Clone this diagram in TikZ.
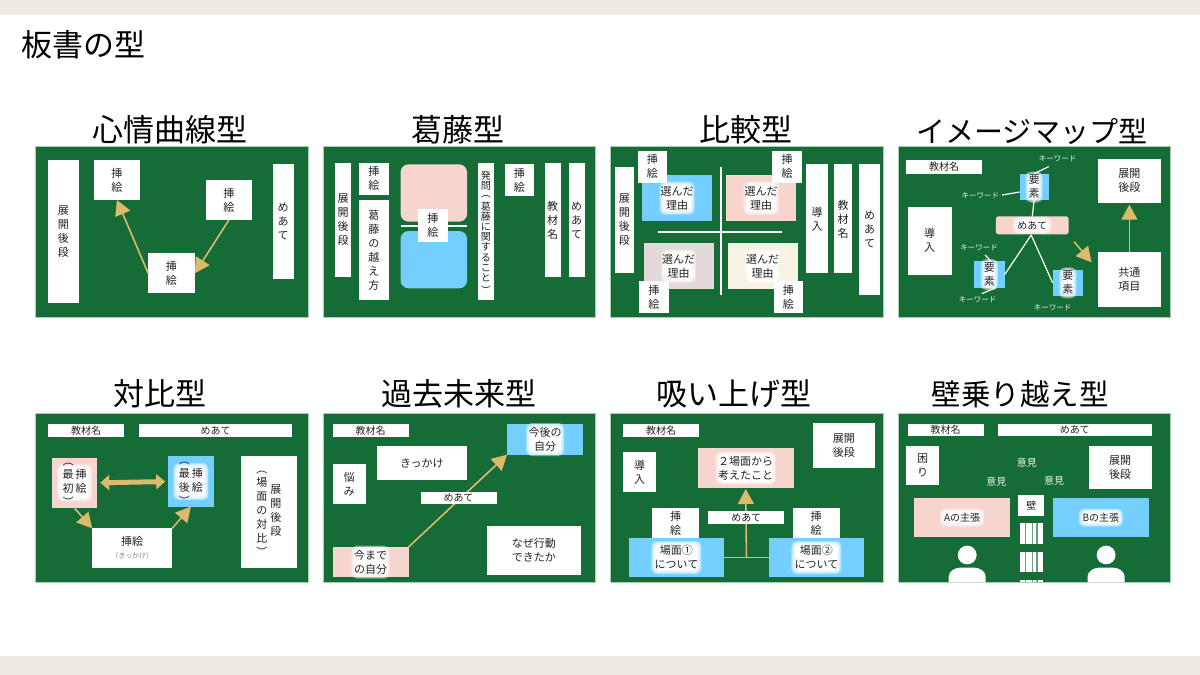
\documentclass[tikz,border=0pt]{standalone}
\usepackage{fontspec}
\setmainfont{Noto Sans CJK JP}
\usetikzlibrary{arrows.meta,calc}
\definecolor{barc}{HTML}{EFEBE3}
\definecolor{board}{HTML}{166C37}
\definecolor{edgec}{HTML}{A8CDB2}
\definecolor{pinkc}{HTML}{F6D5CF}
\definecolor{bluec}{HTML}{74CFFF}
\definecolor{grayc}{HTML}{E2D9D8}
\definecolor{creamc}{HTML}{F8F2E4}
\definecolor{arrowc}{HTML}{DDB96B}
\definecolor{inkc}{HTML}{222222}
\definecolor{kwc}{HTML}{E6F3E8}
\newcommand\setorg[2]{\def\orgx{#1}\def\orgy{#2}}
% zoom-space box: [opts]{name}{fill}{x1}{y1}{x2}{y2}{text}
\newcommand\zbox[8][]{%
  \pgfmathsetmacro\zw{(#6-#4)/2.75}%
  \pgfmathsetmacro\zh{(#7-#5)/3}%
  \pgfmathsetmacro\zcx{\orgx+(#4+#6)/5.5}%
  \pgfmathsetmacro\zcy{\orgy+(#5+#7)/6}%
  \node[bxs,fill=#3,minimum width=\zw pt,minimum height=\zh pt,#1] (#2) at (\zcx,\zcy) {#8};}
\newcommand\halotxt[4]{%
  \foreach \d in {4,3,2,1}{%
    \pgfmathsetmacro\ax{#2/2+\d}\pgfmathsetmacro\ay{#3/2+\d}%
    \fill[white,opacity=.42,rounded corners=5pt] ($(#1.center)+(-\ax,-\ay)$) rectangle ($(#1.center)+(\ax,\ay)$);
  }%
  \fill[white,rounded corners=4pt] ($(#1.center)+({-(#2)/2},{-(#3)/2})$) rectangle ($(#1.center)+({(#2)/2},{(#3)/2})$);
  \node[bxs] (#1-t) at (#1.center) {#4};}
\newcommand\zpt[3]{%
  \pgfmathsetmacro\zcx{\orgx+#2/2.75}%
  \pgfmathsetmacro\zcy{\orgy+#3/3}%
  \coordinate (#1) at (\zcx,\zcy);}
\newcommand\ztxt[4]{%
  \pgfmathsetmacro\zcx{\orgx+#2/2.75}%
  \pgfmathsetmacro\zcy{\orgy+#3/3}%
  \node[freetxt] (#1) at (\zcx,\zcy) {#4};}
\newcommand\vl{\smash{\raisebox{.22em}{\rotatebox[origin=c]{-90}{（}}}}
\newcommand\vr{\smash{\raisebox{-.22em}{\rotatebox[origin=c]{-90}{）}}}}
\newcommand\vt[1]{\begin{tabular}{@{}c@{}}#1\end{tabular}}
\newcommand\sashie{挿\\絵}
\newcommand\hs{\fontsize{10}{12}\selectfont}
\tikzset{
  x=1pt,y=-1pt,
  bxs/.style={draw=none,inner sep=0pt,outer sep=0pt,align=center,text=inkc,font=\fontsize{11}{14}\selectfont},
  panel/.style={bxs,draw=edgec,line width=.7pt},
  ttl/.style={inner sep=0pt,text=black,font=\fontsize{31}{34}\selectfont},
  freetxt/.style={inner sep=0pt,text=kwc,font=\fontsize{7.5}{9}\selectfont},
  arr/.style={draw=arrowc,line width=1.6pt,-{Triangle[length=15pt,width=16pt]}},
  wl/.style={draw=white,line width=1.2pt},
  zoomed/.style={shift={(\orgx,\orgy)},xscale=1/2.75,yscale=1/3},
}
\begin{document}
\begin{tikzpicture}
\useasboundingbox (0,0) rectangle (1200,675);
\fill[white] (0,0) rectangle (1200,675);
\fill[barc] (0,0) rectangle (1200,15);
\fill[barc] (0,656) rectangle (1200,675);
\node[ttl,anchor=center] (main) at (83,45) {板書の型};
% titles
\node[ttl] (t1) at (170,130) {心情曲線型};
\node[ttl] (t2) at (458,130) {葛藤型};
\node[ttl] (t3) at (746,130) {比較型};
\node[ttl,font=\fontsize{29}{32}\selectfont] (t4) at (1032,131) {イメージマップ型};
\node[ttl] (t5) at (160,394) {対比型};
\node[ttl] (t6) at (459,394) {過去未来型};
\node[ttl] (t7) at (734,394) {吸い上げ型};
\node[ttl,font=\fontsize{29.5}{32}\selectfont] (t8) at (1020,394) {壁乗り越え型};

% ---------- row 1, left
\setorg{30}{105}
\zbox[panel]{p1}{board}{14}{125}{765}{637}{}
\zbox{a1}{white}{50}{165}{134}{593}{展\\開\\後\\段}
\zbox{a2}{white}{175}{165}{303}{285}{\sashie}
\zbox{a3}{white}{483}{225}{611}{345}{\sashie}
\zbox{a4}{white}{325}{445}{453}{565}{\sashie}
\zbox{a5}{white}{667}{178}{725}{521}{め\\あ\\て}
\draw[arr] (a4.west) -- (a2.south);
\draw[arr] (a3.south) -- (a4.east);

\zbox[panel]{p2}{board}{806}{125}{1555}{637}{}
\zbox{b1}{white}{839}{173}{883}{517}{展\\開\\後\\段}
\zbox{b2}{white}{905}{173}{986}{269}{\sashie}
\zbox{b3}{white}{905}{285}{986}{585}{葛\\藤\\の\\越\\え\\方}
\zbox[rounded corners=8pt]{b4}{pinkc}{1019}{178}{1202}{350}{}
\zbox[rounded corners=8pt]{b5}{bluec}{1019}{378}{1202}{550}{}
\zpt{bl1}{1019}{364}\zpt{bl2}{1202}{364}
\draw[draw=white,line width=1.8pt] (bl1) -- (bl2);
\zbox{b6}{white}{1066}{313}{1150}{410}{\sashie}
\zbox[font=\fontsize{10}{10.2}\selectfont]{b7}{white}{1231}{173}{1276}{585}{発\\問\\\vl\\葛\\藤\\に\\関\\す\\る\\こ\\と\\\vr}
\zbox{b8}{white}{1305}{177}{1386}{273}{\sashie}
\zbox{b9}{white}{1415}{173}{1459}{517}{教\\材\\名}
\zbox{b10}{white}{1481}{173}{1525}{517}{め\\あ\\て}

% ---------- row 1, right
\setorg{605}{105}
\zbox[panel]{p3}{board}{14}{125}{765}{637}{}
\zbox{c1}{white}{28}{185}{79}{505}{展\\開\\後\\段}
\zbox{c2}{bluec}{101}{210}{295}{349}{}\halotxt{c2}{27}{25}{選んだ\\理由}
\zbox{c3}{pinkc}{333}{210}{526}{349}{}\halotxt{c3}{27}{25}{選んだ\\理由}
\zbox{c4}{grayc}{106}{414}{299}{553}{}\halotxt{c4}{27}{25}{選んだ\\理由}
\zbox{c5}{creamc}{337}{414}{530}{553}{}\halotxt{c5}{27}{25}{選んだ\\理由}
\zbox{c6}{white}{90}{137}{171}{233}{\sashie}
\zbox{c7}{white}{460}{137}{541}{233}{\sashie}
\zbox{c8}{white}{94}{529}{175}{625}{\sashie}
\zbox{c9}{white}{464}{529}{545}{625}{\sashie}
\zpt{cv1}{318}{185}\zpt{cv2}{318}{571}\zpt{ch1}{145}{381}\zpt{ch2}{487}{381}
\draw[draw=white,line width=1.8pt] (cv1) -- (cv2);
\draw[draw=white,line width=1.8pt] (ch1) -- (ch2);
\zbox{c10}{white}{552}{178}{614}{505}{導\\入}
\zbox{c11}{white}{629}{178}{680}{505}{教\\材\\名}
\zbox{c12}{white}{699}{178}{757}{569}{め\\あ\\て}

\zbox[panel]{p4}{board}{806}{125}{1555}{637}{}
\zbox{d1}{white}{828}{166}{1037}{206}{\hs 教材名}
\zbox{d2}{white}{832}{305}{953}{509}{導\\入}
\zbox{d3}{bluec}{1140}{207}{1220}{285}{}\halotxt{d3}{9}{23}{要\\素}
\zbox{d4}{bluec}{1015}{469}{1099}{549}{}\halotxt{d4}{9}{23}{要\\素}
\zbox{d5}{bluec}{1231}{494}{1315}{573}{}\halotxt{d5}{9}{23}{要\\素}
\zbox[rounded corners=2.5pt]{d6}{pinkc}{1075}{334}{1275}{388}{}\halotxt{d6}{30}{9}{\hs めあて}
\draw[wl] (d3.south) -- (d6.north);
\zpt{dm}{1172}{390}
\draw[wl] (dm) -- (d4.east);
\draw[wl] (dm) -- (d5.west);
\ztxt{k1}{1245}{160}{キーワード}
\ztxt{k2}{1032}{272}{キーワード}
\ztxt{k3}{1029}{428}{キーワード}
\ztxt{k4}{1025}{584}{キーワード}
\ztxt{k5}{1231}{608}{キーワード}
\zpt{e1}{1180}{206}\zpt{e2}{1220}{185}\draw[wl] (e1) -- (e2);
\zpt{e3}{1140}{261}\zpt{e4}{1092}{270}\draw[wl] (e3) -- (e4);
\zpt{e5}{1062}{469}\zpt{e6}{1045}{450}\draw[wl] (e5) -- (e6);
\zpt{e7}{1075}{548}\zpt{e8}{1036}{566}\draw[wl] (e7) -- (e8);
\zbox{d7}{white}{1356}{162}{1528}{293}{展開\\後段}
\zbox{d8}{white}{1356}{442}{1528}{605}{共通\\項目}
\draw[arr] (d8.north) -- ($(d7.south)+(0,2)$);
\zpt{da}{1290}{410}\zpt{db}{1338}{472}
\draw[arr] (da) -- (db);

% ---------- row 2, left
\setorg{30}{375}
\zbox[panel]{p5}{board}{14}{115}{765}{622}{}
\zbox{f1}{white}{50}{148}{259}{187}{\hs 教材名}
\zbox{f2}{white}{300}{148}{721}{187}{\hs めあて}
\zbox{f3}{pinkc}{61}{248}{185}{399}{}\halotxt{f3}{27}{29}{\vt{\vl\\[-3pt]最\\初\\[-3pt]\vr}\hspace{2pt}\vt{挿\\絵}}
\zbox{f4}{bluec}{380}{244}{505}{395}{}\halotxt{f4}{27}{29}{\vt{\vl\\[-3pt]最\\後\\[-3pt]\vr}\hspace{2pt}\vt{挿\\絵}}
\draw[draw=arrowc,line width=5pt,shorten <=3pt,shorten >=3pt,{Triangle[length=9pt,width=15pt]}-{Triangle[length=9pt,width=15pt]}] (f3.east) -- (f4.west);
\zbox{f5}{white}{171}{460}{391}{579}{挿絵\\[-1pt]{\fontsize{7}{9}\selectfont\color{gray}（きっかけ）}}
\zbox{f6}{white}{581}{244}{733}{579}{\vt{\vl\\[-3pt]場\\面\\の\\対\\比\\[-3pt]\vr}\hspace{3pt}\vt{展\\開\\後\\段}}
\zpt{f7}{123}{400}
\draw[arr] (f7) -- (f5.north west);
\draw[arr] (f5.north east) -- (f4.south);

\zbox[panel]{p6}{board}{806}{115}{1555}{622}{}
\zbox{g1}{white}{832}{148}{1041}{187}{\hs 教材名}
\zbox{g2}{bluec}{1312}{148}{1521}{239}{}\halotxt{g2}{30}{25}{今後の\\自分}
\zbox{g3}{white}{953}{212}{1202}{316}{きっかけ}
\zbox{g4}{white}{832}{268}{923}{387}{悩\\み}
\zbox{g6}{white}{1257}{452}{1514}{599}{なぜ行動\\できたか}
\zbox{g7}{pinkc}{832}{516}{1041}{607}{}\halotxt{g7}{30}{25}{今まで\\の自分}
\draw[arr] (g7.north east) -- (g2.south west);
\zbox{g5}{white}{1074}{352}{1283}{387}{\hs めあて}

% ---------- row 2, right
\setorg{605}{375}
\zbox[panel]{p7}{board}{14}{115}{765}{622}{}
\zbox{h1}{white}{50}{148}{259}{187}{\hs 教材名}
\zbox{h2}{white}{571}{144}{743}{279}{展開\\後段}
\zbox{h3}{white}{50}{232}{141}{351}{導\\入}
\zbox{h4}{pinkc}{255}{220}{519}{339}{}\halotxt{h4}{52}{25}{２場面から\\考えたこと}
\zbox{h5}{white}{130}{400}{259}{488}{\sashie}
\zbox{h6}{white}{516}{400}{645}{488}{\sashie}
\zbox{h7}{bluec}{65}{488}{328}{607}{}\halotxt{h7}{42}{25}{場面①\\について}
\zbox{h8}{bluec}{450}{488}{713}{607}{}\halotxt{h8}{42}{25}{場面②\\について}
\draw[draw=arrowc,line width=1.6pt] (h7.east) -- (h8.west);
\coordinate (hm) at ($(h7.east)!.5!(h8.west)$);
\draw[arr] (hm) -- ($(h4.south)+(0,1)$);
\zbox{h9}{white}{284}{408}{493}{447}{\hs めあて}

\zbox[panel]{p8}{board}{806}{115}{1555}{622}{}
\zbox{m1}{white}{832}{148}{1041}{183}{\hs 教材名}
\zbox{m2}{white}{1081}{148}{1503}{183}{\hs めあて}
\zbox{m3}{white}{828}{212}{919}{331}{困\\り}
\zbox{m4}{white}{1330}{212}{1503}{343}{展開\\後段}
\ztxt{o1}{1160}{264}{\hs 意見}
\ztxt{o2}{1076}{320}{\hs 意見}
\ztxt{o3}{1235}{316}{\hs 意見}
\zbox{m5}{white}{1137}{360}{1208}{423}{\hs 壁}
\zbox{m6}{pinkc}{850}{368}{1114}{487}{}\halotxt{m6}{36}{10}{\hs Aの主張}
\zbox{m7}{bluec}{1231}{368}{1496}{487}{}\halotxt{m7}{36}{10}{\hs Bの主張}
\begin{scope}[zoomed]
  \foreach \ya/\yb in {445/507,530/592,614/622}{
    \fill[white] (1141,\ya) rectangle (1204,\yb);
    \foreach \xs in {1156,1176,1188}{
      \fill[board!65!white] (\xs-2,\ya) rectangle (\xs+2,\yb);
    }
  }
  \foreach \cx in {996,1378}{
    \fill[white] (\cx,540) ellipse [x radius=26,y radius=28];
    \fill[white] (\cx-51,622) -- (\cx-51,605) .. controls (\cx-51,590) and (\cx-35,578) .. (\cx-20,578)
       -- (\cx+20,578) .. controls (\cx+35,578) and (\cx+51,590) .. (\cx+51,605) -- (\cx+51,622) -- cycle;
  }
\end{scope}
\end{tikzpicture}
\end{document}
